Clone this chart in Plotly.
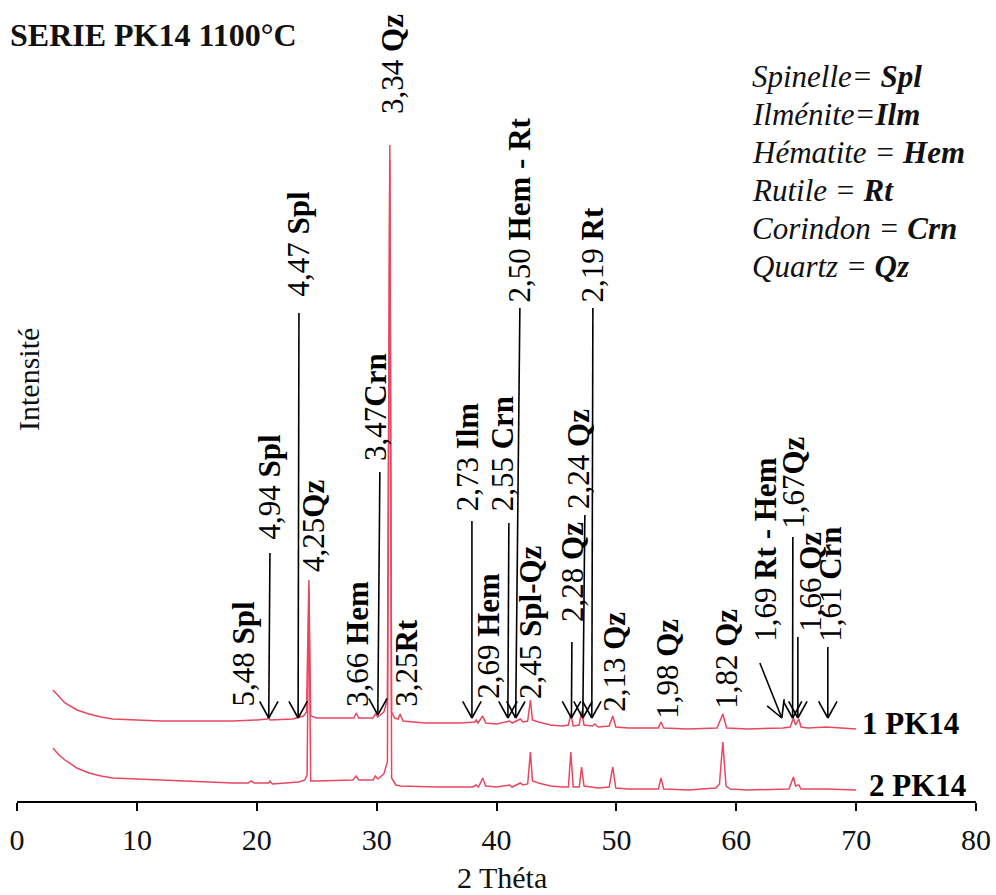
import math
import plotly.graph_objects as go

# ---------------- data ----------------
# Sample 1 PK14 (upper pattern, displayed intensity, a.u.)
two_theta_1 = [3.0, 3.5, 4.0, 5.0, 6.0, 7.0, 8.0, 10.0, 12.0, 15.0, 18.0, 20.0, 20.9, 21.0, 21.1,
               23.0, 23.4, 23.9, 24.15, 24.35, 24.5, 25.0, 27.0, 28.1, 28.3, 28.5, 29.7, 29.9, 30.1,
               30.6, 30.9, 31.1, 31.25, 31.5, 31.8, 31.95, 32.2, 34.0, 37.0, 38.2, 38.3, 38.45, 38.85,
               39.1, 40.0, 41.1, 41.3, 42.0, 42.2, 42.6, 42.83, 43.0, 43.5, 44.5, 45.5, 46.0, 46.2,
               46.4, 46.9, 47.1, 47.3, 48.0, 48.2, 48.5, 49.4, 49.7, 49.95, 51.0, 53.5, 53.72, 53.95,
               56.0, 58.4, 58.88, 59.2, 61.0, 63.9, 64.5, 64.77, 64.95, 65.22, 65.4, 66.0, 67.5, 70.0]
intensity_1 = [111, 104, 98, 91, 87, 84, 82, 81, 80, 80, 80, 81, 82, 84, 81,
               82, 83, 85, 89, 221, 85, 83, 83, 83, 88, 83, 83, 87, 84,
               89, 101, 656, 89, 83, 82, 87, 80, 78, 78, 79, 81, 78, 85,
               78, 77, 80, 78, 82, 79, 80, 101, 81, 79, 76, 75, 76, 87,
               75, 76, 90, 76, 75, 77, 74, 75, 85, 74, 73, 73, 79, 73,
               72, 73, 87, 73, 72, 73, 74, 83, 76, 82, 74, 73, 74, 72]

# Sample 2 PK14 (lower pattern)
two_theta_2 = [3.0, 3.5, 4.0, 5.0, 6.0, 7.0, 8.0, 10.0, 12.0, 15.0, 18.0, 19.3, 19.5, 19.8, 21.0,
               21.1, 21.3, 23.5, 24.0, 24.2, 24.35, 24.5, 25.0, 28.0, 28.3, 28.5, 29.7, 29.9, 30.1,
               30.6, 30.9, 31.1, 31.25, 31.6, 32.0, 35.0, 38.0, 38.3, 38.5, 38.85, 39.1, 40.0, 41.1,
               41.3, 42.0, 42.2, 42.6, 42.83, 43.0, 43.5, 44.5, 45.5, 46.0, 46.2, 46.4, 46.9, 47.1,
               47.3, 48.0, 48.5, 49.4, 49.7, 49.95, 51.0, 53.5, 53.72, 53.95, 56.0, 58.3, 58.6, 58.88,
               59.15, 59.5, 61.0, 64.4, 64.77, 64.95, 65.22, 65.4, 67.5, 70.0]
intensity_2 = [53, 46, 41, 33, 28, 25, 23, 22, 21, 19, 18, 18, 20, 18, 18,
               20, 17, 19, 21, 26, 211, 20, 20, 21, 25, 21, 21, 25, 22,
               27, 39, 641, 23, 16, 15, 14, 14, 16, 14, 23, 15, 14, 16,
               14, 18, 16, 17, 49, 20, 18, 15, 14, 14, 49, 14, 14, 34,
               15, 14, 13, 14, 34, 13, 12, 12, 23, 12, 11, 13, 17, 59,
               15, 12, 11, 12, 24, 15, 16, 12, 12, 11]

# Peak labels: d-spacing (Å) and phase
label_d = ["5,48", "4,94", "4,47", "4,25", "3,66", "3,47", "3,34", "3,25", "2,73", "2,69", "2,55",
           "2,50", "2,45", "2,28", "2,24", "2,19", "2,13", "1,98", "1,82", "1,69", "1,67", "1,66", "1,61"]
label_phase = ["Spl", "Spl", "Spl", "Qz", "Hem", "Crn", "Qz", "Rt", "Ilm", "Hem", "Crn",
               "Hem - Rt", "Spl-Qz", "Qz", "Qz", "Rt", "Qz", "Qz", "Qz", "Rt - Hem", "Qz", "Qz", "Crn"]
label_sep = [" ", " ", " ", "", " ", "", " ", "", " ", " ", " ",
             " ", " ", " ", " ", " ", " ", " ", " ", " ", "", " ", " "]
# label centre (2θ) and lower end of the label (intensity units)
label_x = [18.93, 21.1, 23.52, 24.69, 28.36, 29.86, 31.28, 32.44, 37.61, 39.28, 40.53,
           41.95, 42.79, 46.29, 46.79, 48.04, 49.79, 54.21, 59.13, 62.38, 64.72, 66.14, 67.85]
label_y = [94, 261, 504, 228, 93, 339, 686, 93, 289, 101, 289,
           498, 101, 178, 291, 498, 88, 81, 91, 158, 271, 168, 158]

# Arrows: tail (2θ, intensity) -> tip (2θ, intensity)
arrow_x0 = [21.1, 23.52, 30.27, 37.95, 41.03, 41.95, 46.29, 47.37, 48.04, 61.97, 64.72, 65.14, 67.64]
arrow_y0 = [248, 488, 329, 280, 278, 493, 159, 286, 493, 138, 264, 164, 154]
arrow_x1 = [21.0, 23.45, 30.1, 37.95, 40.95, 41.6, 46.25, 47.2, 47.95, 63.8, 64.7, 65.14, 67.64]
arrow_y1 = [83, 83, 86, 83, 83, 83, 83, 83, 83, 83, 83, 83, 83]

legend_lines = ["<i>Spinelle= <b>Spl</b></i>", "<i>Ilménite=<b>Ilm</b></i>", "<i>Hématite = <b>Hem</b></i>",
                "<i>Rutile = <b>Rt</b></i>", "<i>Corindon = <b>Crn</b></i>", "<i>Quartz = <b>Qz</b></i>"]

x_ticks = [0, 10, 20, 30, 40, 50, 60, 70, 80]

# ---------------- layout constants ----------------
W, H = 996, 895
ML, MR, MT, MB = 17, 20, 0, 94
PLOT_W = W - ML - MR
PLOT_H = H - MT - MB
X_RANGE = [0, 80]
Y_RANGE = [0, PLOT_H]
PXD = PLOT_W / (X_RANGE[1] - X_RANGE[0])        # px per degree
PXI = PLOT_H / (Y_RANGE[1] - Y_RANGE[0])        # px per intensity unit
SERIF = "Liberation Serif, Times New Roman, serif"
RED = "#e8475f"

fig = go.Figure()
fig.add_trace(go.Scatter(x=two_theta_1, y=intensity_1, mode="lines",
                         line=dict(color=RED, width=1.5), hoverinfo="skip", showlegend=False))
fig.add_trace(go.Scatter(x=two_theta_2, y=intensity_2, mode="lines",
                         line=dict(color=RED, width=1.5), hoverinfo="skip", showlegend=False))

# arrows (shaft + open V head)
ax_path, ay_path = [], []
HEAD_LEN, HEAD_ANG = 19, math.radians(29)
for x0, y0, x1, y1 in zip(arrow_x0, arrow_y0, arrow_x1, arrow_y1):
    X0, Y0, X1, Y1 = x0 * PXD, y0 * PXI, x1 * PXD, y1 * PXI
    dx, dy = X0 - X1, Y0 - Y1
    n = math.hypot(dx, dy)
    ux, uy = dx / n, dy / n
    ax_path += [x0, x1, None]
    ay_path += [y0, y1, None]
    for s in (1, -1):
        c, sn = math.cos(s * HEAD_ANG), math.sin(s * HEAD_ANG)
        hx = X1 + HEAD_LEN * (ux * c - uy * sn)
        hy = Y1 + HEAD_LEN * (ux * sn + uy * c)
        ax_path += [hx / PXD, x1, None]
        ay_path += [hy / PXI, y1, None]
fig.add_trace(go.Scatter(x=ax_path, y=ay_path, mode="lines",
                         line=dict(color="black", width=1.6), hoverinfo="skip", showlegend=False))

annotations = []
for d, ph, sep, lx, ly in zip(label_d, label_phase, label_sep, label_x, label_y):
    annotations.append(dict(x=lx, y=ly, xref="x", yref="y", text=f"{d}{sep}<b>{ph}</b>",
                            textangle=-90, xanchor="center", yanchor="bottom", showarrow=False,
                            borderpad=0, font=dict(family=SERIF, size=31, color="black")))

# legend of abbreviations
for i, t in enumerate(legend_lines):
    py = 76 + i * 38
    annotations.append(dict(x=(750 - ML) / PLOT_W, y=(PLOT_H - (py - MT)) / PLOT_H, xref="paper", yref="paper",
                            text=t, xanchor="left", yanchor="middle", showarrow=False,
                            font=dict(family=SERIF, size=31, color="#111")))

# sample labels
annotations.append(dict(x=70.3, y=78, xref="x", yref="y", text="<b>1 PK14</b>", xanchor="left",
                        yanchor="middle", showarrow=False, font=dict(family=SERIF, size=31, color="black")))
annotations.append(dict(x=70.9, y=16, xref="x", yref="y", text="<b>2 PK14</b>", xanchor="left",
                        yanchor="middle", showarrow=False, font=dict(family=SERIF, size=31, color="black")))

# title
annotations.append(dict(x=(8 - ML) / PLOT_W, y=(PLOT_H - 35) / PLOT_H, xref="paper", yref="paper",
                        text="<b>SERIE PK14 1100°C</b>", xanchor="left", yanchor="middle", showarrow=False,
                        font=dict(family=SERIF, size=32, color="#111")))
# axis titles
annotations.append(dict(x=(28 - ML) / PLOT_W, y=(PLOT_H - 380) / PLOT_H, xref="paper", yref="paper",
                        text="Intensité", textangle=-90, xanchor="center", yanchor="middle", showarrow=False,
                        font=dict(family=SERIF, size=30, color="#111")))
annotations.append(dict(x=(502 - ML) / PLOT_W, y=(PLOT_H - 877) / PLOT_H, xref="paper", yref="paper",
                        text="2 Théta", xanchor="center", yanchor="middle", showarrow=False,
                        font=dict(family=SERIF, size=30, color="#111")))

fig.update_layout(
    width=W, height=H,
    margin=dict(l=ML, r=MR, t=MT, b=MB, autoexpand=False),
    paper_bgcolor="white", plot_bgcolor="white",
    annotations=annotations,
    xaxis=dict(range=X_RANGE, tickvals=x_ticks, ticktext=[str(v) for v in x_ticks],
               showline=True, linecolor="black", linewidth=2, ticks="outside", ticklen=8,
               tickwidth=2, tickcolor="black", showgrid=False, zeroline=False, automargin=False,
               tickfont=dict(family=SERIF, size=30, color="#111"), ticklabelstandoff=3),
    yaxis=dict(range=Y_RANGE, visible=False, showgrid=False, zeroline=False, automargin=False),
)

fig.write_html("out.html", config={"displayModeBar": False},
               post_script="document.body.style.margin='0';document.body.style.overflow='hidden';")
